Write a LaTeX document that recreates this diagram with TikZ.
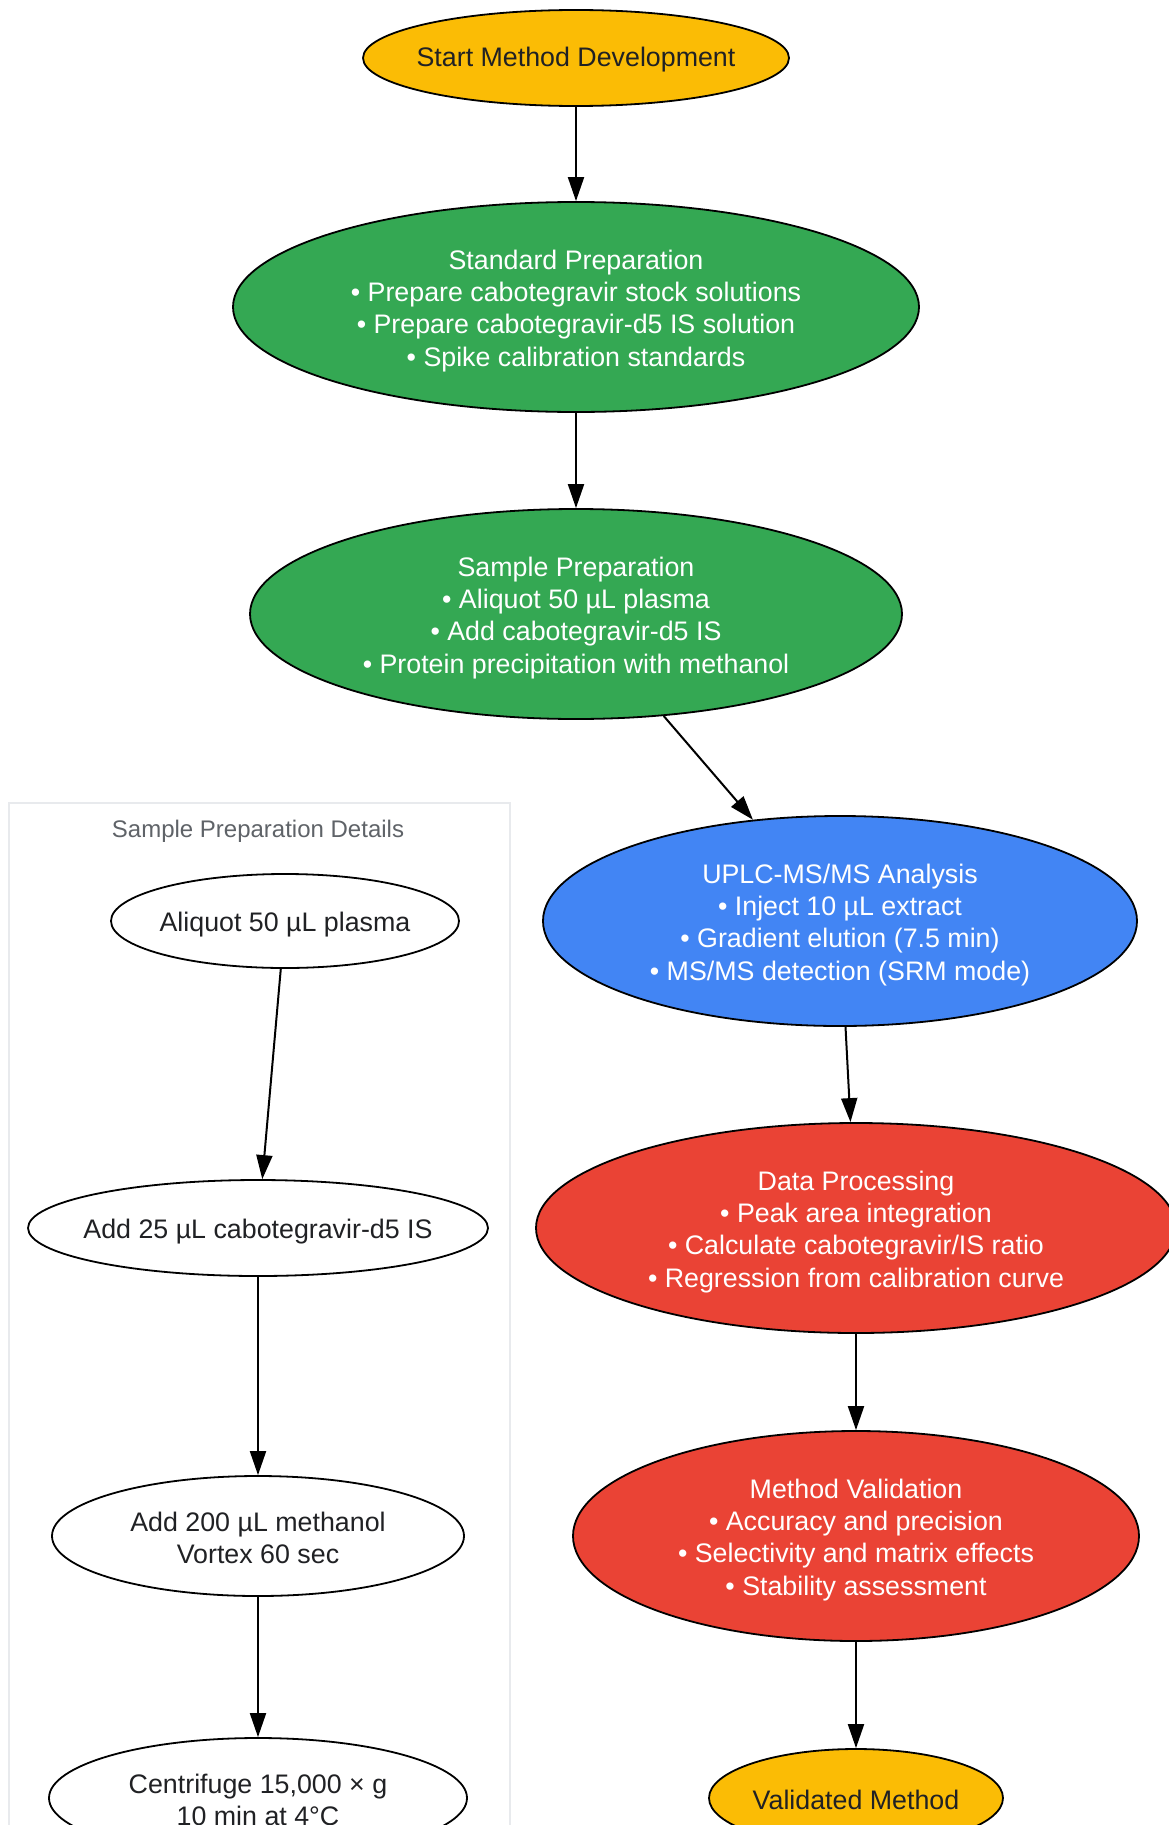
\documentclass[tikz,border=0pt]{standalone}
\usepackage{fontspec}
\setmainfont{Liberation Sans}
\usetikzlibrary{shapes.geometric,arrows.meta}
\definecolor{startyellow}{HTML}{FBBC05}
\definecolor{prepgreen}{HTML}{34A853}
\definecolor{runblue}{HTML}{4285F4}
\definecolor{evalred}{HTML}{EA4335}
\definecolor{darktext}{HTML}{202124}
\definecolor{clustergray}{HTML}{E8EAED}
\definecolor{labelgray}{HTML}{5F6368}
\newcommand{\lift}{\rule{0pt}{27pt}}
\newcommand{\liftsmall}{\rule{0pt}{23pt}}
\tikzset{
  stage/.style={ellipse, draw=black, line width=1.8pt, inner xsep=-80pt, inner ysep=0pt, align=center,
    font=\fontsize{26.8}{32.4}\selectfont},
  detail/.style={stage, fill=white, text=darktext},
  flow/.style={line width=2pt, -{Triangle[length=24pt, width=16pt]}}
}
\begin{document}
\begin{tikzpicture}[x=1pt, y=-1pt]
  \useasboundingbox (0, 0) rectangle (1168, 1825);
  \fill [white] (0, 0) rectangle (1168, 1825);

  % cluster
  \draw [clustergray, line width=2pt] (9, 1840) -- (9, 803) -- (510, 803) -- (510, 1840);
  \node [text=labelgray, font=\fontsize{24}{28}\selectfont] (cltitle) at (258, 831) {Sample Preparation Details};

  % main flow
  \node [stage, fill=startyellow, text=darktext, minimum width=426pt, minimum height=96pt] (start) at (576, 58) {\liftsmall Start Method Development};
  \node [stage, fill=prepgreen, text=white, minimum width=686pt, minimum height=210pt] (stdprep) at (576, 307)
    {\lift Standard Preparation\\ • Prepare cabotegravir stock solutions\\ • Prepare cabotegravir-d5 IS solution\\ • Spike calibration standards};
  \node [stage, fill=prepgreen, text=white, minimum width=652pt, minimum height=210pt] (smpprep) at (576, 614)
    {\lift Sample Preparation\\ • Aliquot 50 µL plasma\\ • Add cabotegravir-d5 IS\\ • Protein precipitation with methanol};
  \node [stage, fill=runblue, text=white, minimum width=594pt, minimum height=210pt] (uplc) at (840, 921)
    {\lift UPLC-MS/MS Analysis\\ • Inject 10 µL extract\\ • Gradient elution (7.5 min)\\ • MS/MS detection (SRM mode)};
  \node [stage, fill=evalred, text=white, minimum width=640pt, minimum height=210pt] (dataproc) at (856, 1228)
    {\lift Data Processing\\ • Peak area integration\\ • Calculate cabotegravir/IS ratio\\ • Regression from calibration curve};
  \node [stage, fill=evalred, text=white, minimum width=566pt, minimum height=210pt] (valid) at (856, 1536)
    {\lift Method Validation\\ • Accuracy and precision\\ • Selectivity and matrix effects\\ • Stability assessment};
  \node [stage, fill=startyellow, text=darktext, minimum width=294pt, minimum height=98pt] (done) at (856, 1798) {\liftsmall Validated Method};

  % detail steps
  \node [detail, minimum width=348pt, minimum height=94pt] (aliquot) at (285, 921) {\lift Aliquot 50 µL plasma};
  \node [detail, minimum width=460pt, minimum height=96pt] (addis) at (258, 1228) {\lift Add 25 µL cabotegravir-d5 IS};
  \node [detail, minimum width=412pt, minimum height=120pt] (addmeoh) at (258, 1536) {\liftsmall Add 200 µL methanol\\ Vortex 60 sec};
  \node [detail, minimum width=418pt, minimum height=120pt] (spin) at (258, 1798) {\liftsmall Centrifuge 15,000 × g\\ 10 min at 4°C};

  \draw [flow] (start) -- (stdprep);
  \draw [flow] (stdprep) -- (smpprep);
  \draw [flow] (smpprep) -- (uplc);
  \draw [flow] (uplc) -- (dataproc);
  \draw [flow] (dataproc) -- (valid);
  \draw [flow] (valid) -- (done);

  \draw [flow] (aliquot) -- (addis);
  \draw [flow] (addis) -- (addmeoh);
  \draw [flow] (addmeoh) -- (spin);
\end{tikzpicture}
\end{document}
